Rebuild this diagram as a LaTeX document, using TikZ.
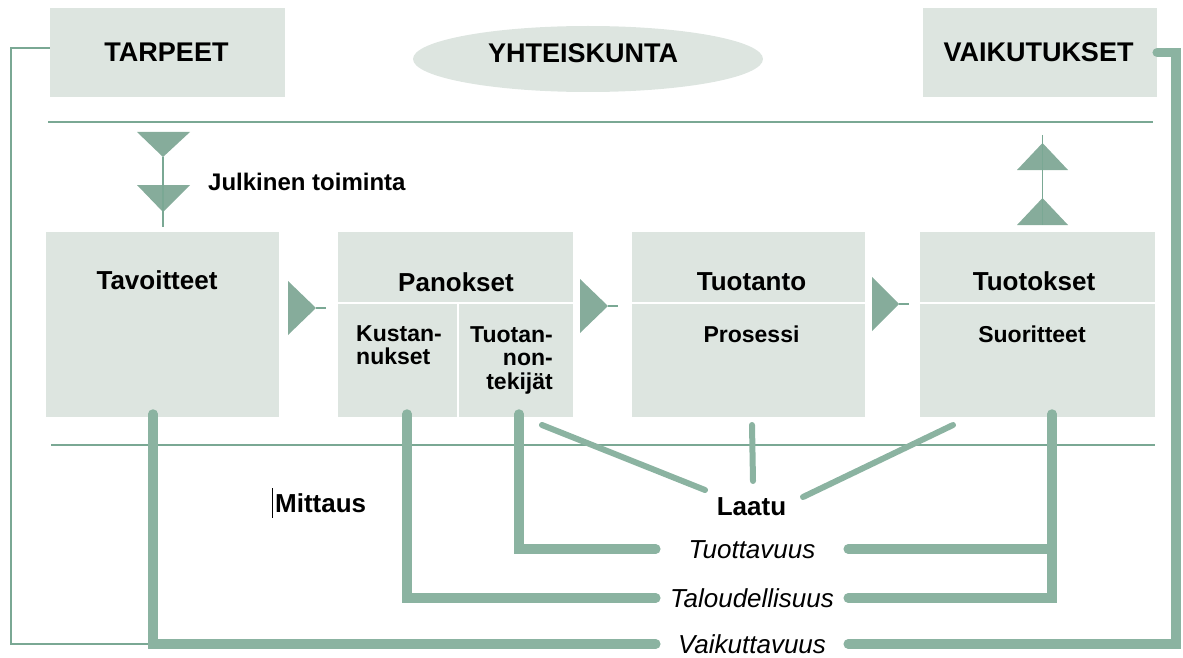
\documentclass[tikz,border=0pt]{standalone}
\usepackage{fontspec}
\setmainfont{Liberation Sans}
\usepackage{xcolor}
\usepackage{tikz}
\usetikzlibrary{shapes,shapes.geometric}
\usetikzlibrary{backgrounds,calc}
\pgfdeclarelayer{edgelayer}
\pgfdeclarelayer{nodelayer}
\pgfsetlayers{background,edgelayer,nodelayer,main}
\definecolor{boxfill}{RGB}{221,229,224}
\definecolor{sage}{RGB}{139,179,161}
\definecolor{sagedark}{RGB}{134,172,155}
\definecolor{sagethin}{RGB}{122,168,148}
\tikzstyle{box}=[rectangle,fill=boxfill,inner sep=0pt]
\tikzstyle{oval}=[ellipse,fill=boxfill,inner sep=0pt,minimum width=350pt,minimum height=66pt]
\tikzstyle{caps}=[font=\fontsize{27}{27}\selectfont\bfseries,anchor=base,inner sep=0pt]
\tikzstyle{hd}=[font=\fontsize{26}{26}\selectfont\bfseries,anchor=base,inner sep=0pt]
\tikzstyle{sub}=[font=\fontsize{23}{23.5}\selectfont\bfseries,anchor=base,inner sep=0pt]
\tikzstyle{meas}=[font=\fontsize{26}{26}\selectfont\itshape,minimum width=192pt,text height=19pt,text depth=0pt,inner sep=0pt]
\tikzstyle{thk}=[draw=sage,line width=9.5pt,line cap=round]
\tikzstyle{qline}=[draw=sage,line width=6pt,line cap=round]
\tikzstyle{thn}=[draw=sagethin,line width=1.2pt]
\tikzstyle{tri}=[fill=sagedark]
\tikzstyle{sep}=[draw=white,line width=1.5pt]

\begin{document}
\begin{tikzpicture}[x=1pt,y=-1pt]
	\useasboundingbox (0,0) rectangle (1183,658);
	\begin{pgfonlayer}{nodelayer}
		\node [style=box,minimum width=235pt,minimum height=89pt] (tar) at (167.5, 52.5) {};
		\node [style=oval] (yht) at (588, 59) {};
		\node [style=box,minimum width=234pt,minimum height=89pt] (vai) at (1040, 52.5) {};
		\node [style=box,minimum width=233pt,minimum height=185pt] (tav) at (162.5, 324.5) {};
		\node [style=box,minimum width=235pt,minimum height=185pt] (pan) at (455.5, 324.5) {};
		\node [style=box,minimum width=233pt,minimum height=185pt] (tuo) at (748.5, 324.5) {};
		\node [style=box,minimum width=235pt,minimum height=185pt] (tok) at (1037.5, 324.5) {};
		\coordinate (sy) at (0, 303);
		\coordinate (pv) at (458, 303);
		\draw [style=sep] (pan.west |- sy) -- (pan.east |- sy);
		\draw [style=sep] (tuo.west |- sy) -- (tuo.east |- sy);
		\draw [style=sep] (tok.west |- sy) -- (tok.east |- sy);
		\draw [style=sep] (pv) -- (pv |- pan.south);

		\node [style=caps] (tarl) at (166.5, 62) {TARPEET};
		\node [style=caps] (yhtl) at (583, 63) {YHTEISKUNTA};
		\node [style=caps] (vail) at (1038.5, 62) {VAIKUTUKSET};
		\node [style=hd] (tavl) at (157, 289) {Tavoitteet};
		\node [style=hd] (panl) at (456, 291) {Panokset};
		\node [style=hd] (tuol) at (751.5, 290) {Tuotanto};
		\node [style=hd] (tokl) at (1034, 290) {Tuotokset};
		\node [style=sub] (pro) at (751.5, 342) {Prosessi};
		\node [style=sub] (suo) at (1032, 342) {Suoritteet};
		\node [style=sub,anchor=north west,align=left] (kus) at (356, 325) {Kustan-\\nukset};
		\node [style=sub,anchor=north east,align=right] (tek) at (553, 326) {Tuotan-\\non-\\tekijät};
		\node [style=hd,font=\fontsize{24}{24}\selectfont\bfseries,anchor=base west] (jul) at (208, 190) {Julkinen toiminta};
		\node [style=hd,anchor=base west] (mit) at (275, 512) {Mittaus};
		\node [style=hd] (laa) at (751.5, 515) {Laatu};
		\node [style=meas] (tv) at (752, 549) {Tuottavuus};
		\node [style=meas] (tl) at (752, 598) {Taloudellisuus};
		\node [style=meas] (vk) at (752, 644) {Vaikuttavuus};
	\end{pgfonlayer}
	\begin{pgfonlayer}{edgelayer}
		% rules across the page
		\coordinate (h1) at (48, 122);
		\coordinate (h2) at (1153, 122);
		\coordinate (h3) at (51, 445);
		\coordinate (h4) at (1155, 445);
		\draw [style=thn] (h1) -- (h2);
		\draw [style=thn] (h3) -- (h4);
		% thin loop from TARPEET
		\coordinate (lx) at (11, 644);
		\coordinate (lb) at (153, 644);
		\draw [style=thn] ([yshift=4.5pt]tar.west) -| (lx) -- (lb);
		% triangles
		\fill [style=tri] (137, 132) -- (190, 132) -- (163, 157) -- cycle;
		\fill [style=tri] (137, 185) -- (190, 185) -- (163, 212) -- cycle;
		\draw [style=thn] (163, 157) -- (163, 227);
		\fill [style=tri] (1017, 170) -- (1068, 170) -- (1042.5, 143) -- cycle;
		\fill [style=tri] (1017, 225) -- (1068, 225) -- (1042.5, 198) -- cycle;
		\draw [style=thn] (1042.5, 135) -- (1042.5, 225);
		\fill [style=tri] (288, 281) -- (288, 335) -- (316, 308) -- cycle;
		\draw [style=thn] (316, 308) -- (326, 308);
		\fill [style=tri] (580, 279) -- (580, 333) -- (608, 306) -- cycle;
		\draw [style=thn] (608, 306) -- (618, 306);
		\fill [style=tri] (872, 277) -- (872, 331) -- (899, 304) -- cycle;
		\draw [style=thn] (899, 304) -- (909, 304);
	\end{pgfonlayer}
	% measures
	\coordinate (m1) at (153, 414);
	\coordinate (m2) at (407, 414);
	\coordinate (m3) at (519, 414);
	\coordinate (m4) at (1052, 414);
	\coordinate (rx) at (1176, 350);
	\draw [style=thk] (m1) |- (vk.west);
	\draw [style=thk] (vai.east) -| (rx) |- (vk.east);
	\draw [style=thk] (m2) |- (tl.west);
	\draw [style=thk] (m4) |- (tl.east);
	\draw [style=thk] (m3) |- (tv.west);
	\draw [style=thk] (tv.east) -- (tv.east -| m4);
	% quality
	\coordinate (q1) at (542, 425);
	\coordinate (q2) at (705, 490);
	\coordinate (q3) at (752, 425);
	\coordinate (q4) at (753, 481);
	\coordinate (q5) at (953, 425);
	\coordinate (q6) at (803, 497);
	\draw [style=qline] (q1) -- (q2);
	\draw [style=qline] (q3) -- (q4);
	\draw [style=qline] (q5) -- (q6);
	\draw [black,line width=1pt] (272, 488) -- (272, 518);
\end{tikzpicture}
\end{document}
